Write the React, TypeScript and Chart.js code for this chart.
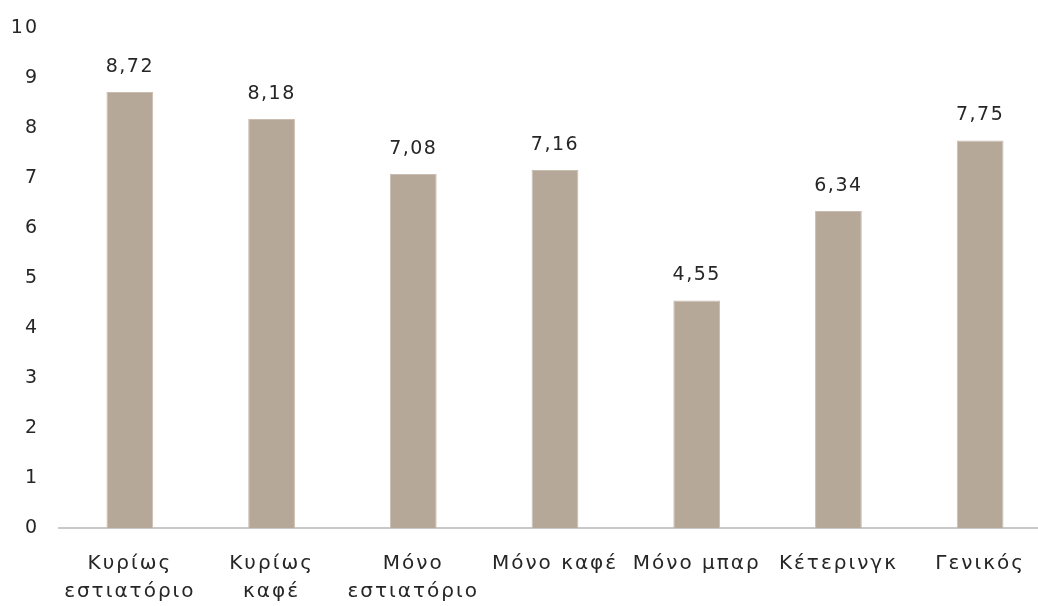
import React, { useEffect, useRef } from "react";
import { Chart, registerables } from "chart.js";

Chart.register(...registerables);

const categories: (string | string[])[] = [
  ["Κυρίως", "εστιατόριο"],
  ["Κυρίως", "καφέ"],
  ["Μόνο", "εστιατόριο"],
  "Μόνο καφέ",
  "Μόνο μπαρ",
  "Κέτερινγκ",
  "Γενικός",
];
const values: number[] = [8.72, 8.18, 7.08, 7.16, 4.55, 6.34, 7.75];
const yTicks: number[] = [0, 1, 2, 3, 4, 5, 6, 7, 8, 9, 10];

const FONT = "'DejaVu Sans', sans-serif";
const SPACING = "2px";

const spacingPlugin = {
  id: "letterSpacing",
  beforeInit(chart: any) {
    chart.ctx.letterSpacing = SPACING;
  },
  beforeUpdate(chart: any) {
    chart.ctx.letterSpacing = SPACING;
  },
  beforeDraw(chart: any) {
    chart.ctx.letterSpacing = SPACING;
  },
};

const labelPlugin = {
  id: "barValueLabels",
  afterDatasetsDraw(chart: any) {
    const ctx = chart.ctx;
    const meta = chart.getDatasetMeta(0);
    ctx.save();
    ctx.letterSpacing = "1.5px";
    ctx.fillStyle = "#262626";
    ctx.font = `19px ${FONT}`;
    ctx.textAlign = "center";
    ctx.textBaseline = "middle";
    meta.data.forEach((bar: any, i: number) => {
      const v = values[i];
      ctx.fillText(v.toFixed(2).replace(".", ","), bar.x, bar.y - 25);
    });
    ctx.restore();
  },
};

export default function App() {
  const ref = useRef<HTMLCanvasElement | null>(null);
  useEffect(() => {
    if (!ref.current) return;
    const chart = new Chart(ref.current, {
      type: "bar",
      data: {
        labels: categories,
        datasets: [
          {
            data: values,
            backgroundColor: "#b6a898",
            borderColor: "#c9bdb0",
            borderWidth: 1,
            categoryPercentage: 1,
            barPercentage: 0.33,
          },
        ],
      },
      options: {
        animation: false,
        responsive: false,
        maintainAspectRatio: false,
        layout: { padding: { top: 28, left: 0, right: 0, bottom: 0 } },
        plugins: { legend: { display: false }, tooltip: { enabled: false } },
        scales: {
          x: {
            grid: { display: false, drawTicks: false },
            border: { display: true, color: "#c8c8c8", width: 2 },
            afterFit: (s: any) => {
              s.height = 78;
              s.paddingLeft = 0;
              s.paddingRight = 0;
            },
            ticks: {
              color: "#262626",
              font: { family: FONT, size: 20, lineHeight: 1.4 },
              maxRotation: 0,
              autoSkip: false,
              padding: 22,
            },
          },
          y: {
            min: 0,
            max: 10,
            afterBuildTicks: (axis: any) => {
              axis.ticks = yTicks.map((v) => ({ value: v }));
            },
            afterFit: (s: any) => {
              s.width = 59;
              s.paddingTop = 0;
              s.paddingBottom = 0;
            },
            grid: { display: false, drawTicks: false },
            border: { display: false },
            ticks: {
              color: "#262626",
              font: { family: FONT, size: 19 },
              padding: 20,
            },
          },
        },
      },
      plugins: [spacingPlugin, labelPlugin],
    });
    return () => chart.destroy();
  }, []);
  return (
    <div style={{ position: "fixed", left: 0, top: 0, width: 1038, height: 606, overflow: "hidden", background: "#fff" }}>
      <canvas ref={ref} width={1051} height={606} style={{ display: "block" }} />
    </div>
  );
}
